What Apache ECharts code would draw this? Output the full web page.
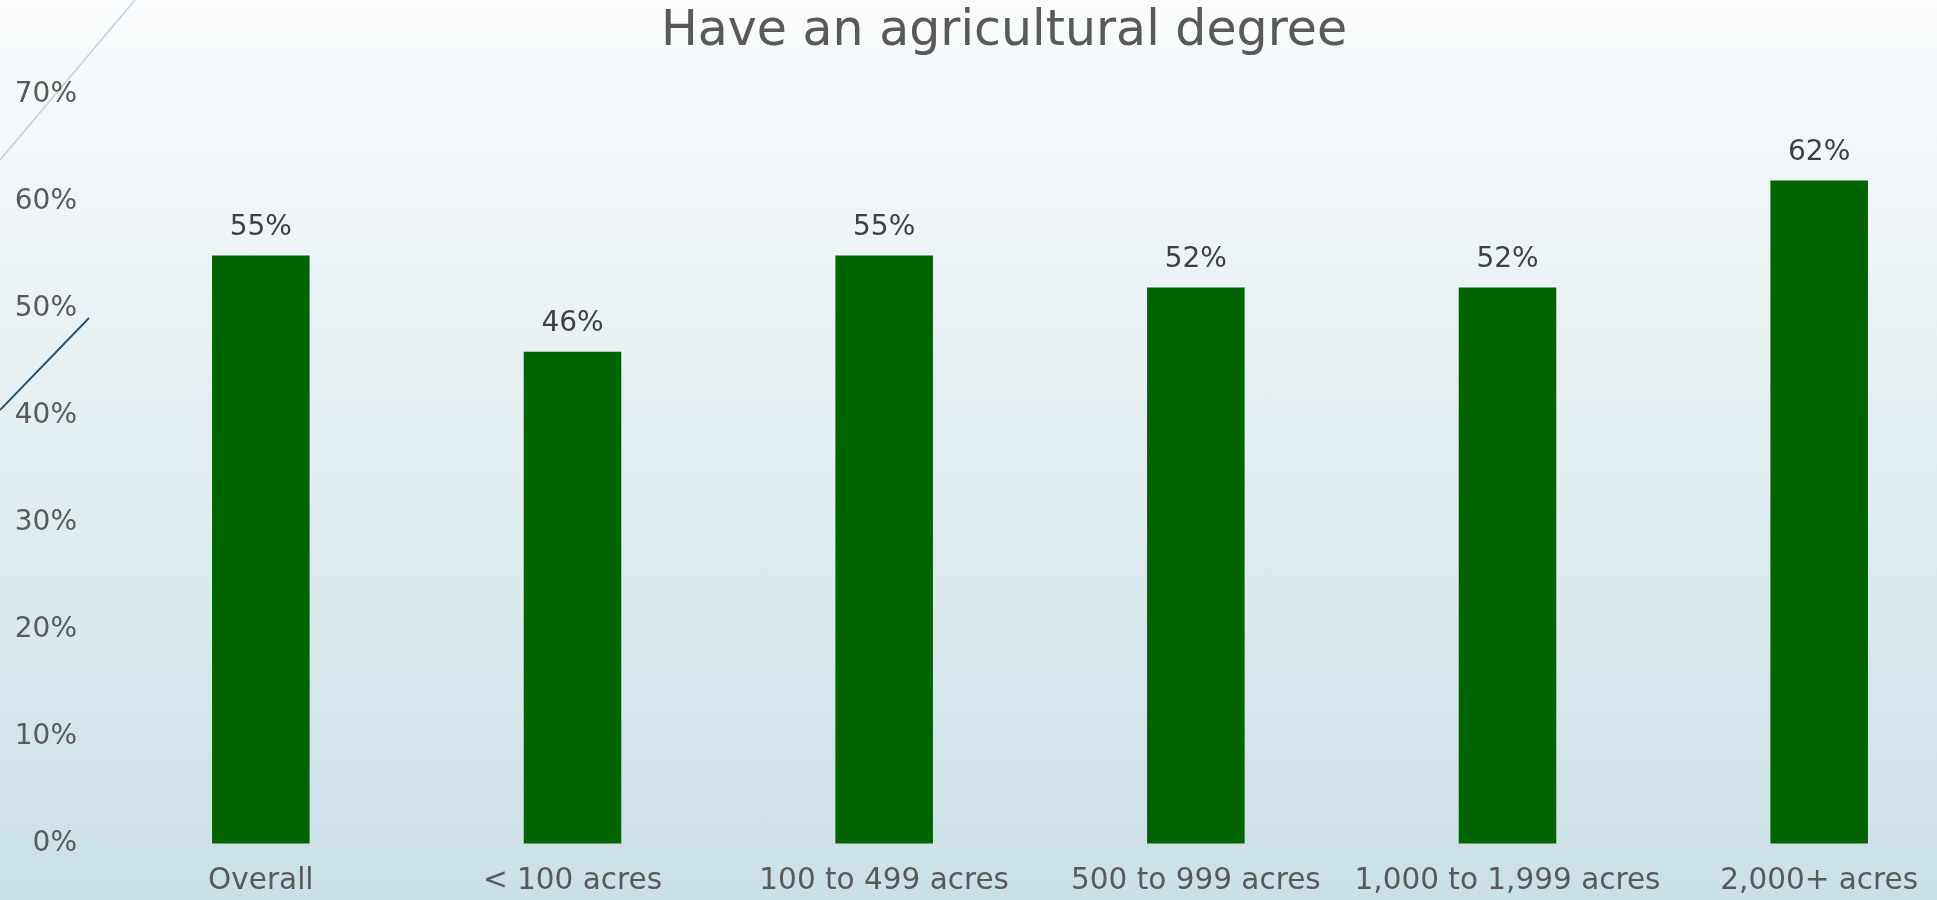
<!DOCTYPE html>
<html>
<head>
<meta charset="utf-8">
<script src="https://cdn.jsdelivr.net/npm/echarts@6/dist/echarts.min.js"></script>
<style>
html,body{margin:0;padding:0;width:1937px;height:900px;overflow:hidden;background:#e3eef2;}
#chart{width:1975px;height:900px;background:linear-gradient(to bottom,#f9fbfc 0%,#e3eef2 50%,#cae0e7 100%);}
</style>
</head>
<body>
<div id="chart"></div>
<script>
const titleText = 'Have an agricultural degree';
const categories = ['Overall', '< 100 acres', '100 to 499 acres', '500 to 999 acres', '1,000 to 1,999 acres', '2,000+ acres'];
const values = [55, 46, 55, 52, 52, 62];
const yMin = 0, yMax = 70, yStep = 10;

const font = '"DejaVu Sans", sans-serif';
const chart = echarts.init(document.getElementById('chart'), null, {renderer: 'canvas'});
chart.setOption({
  backgroundColor: 'transparent',
  animation: false,
  title: {
    text: titleText,
    left: 999,
    textAlign: 'center',
    top: 3,
    textStyle: {fontFamily: font, fontSize: 49, fontWeight: 'normal', color: '#595959'}
  },
  graphic: [
    {type: 'line', shape: {x1: 135, y1: 0, x2: 0, y2: 160}, style: {stroke: '#c5d1d8', lineWidth: 1.5}},
    {type: 'line', shape: {x1: 89, y1: 318, x2: 0, y2: 410}, style: {stroke: '#1f4e6e', lineWidth: 1.8}}
  ],
  grid: {left: 105, top: 95, bottom: 56.5, right: 0, containLabel: false},
  xAxis: {
    type: 'category',
    data: categories,
    axisLine: {show: true, lineStyle: {color: '#d9d9d9', width: 1.5}},
    axisTick: {show: false},
    axisLabel: {fontFamily: font, fontSize: 29.5, color: '#595959', margin: 23, interval: 0}
  },
  yAxis: {
    type: 'value',
    min: yMin, max: yMax, interval: yStep,
    axisLine: {show: false},
    axisTick: {show: false},
    splitLine: {show: false},
    axisLabel: {fontFamily: font, fontSize: 28, color: '#595959', margin: 28, formatter: '{value}%'}
  },
  series: [{
    type: 'bar',
    data: values,
    barWidth: '31.3%',
    itemStyle: {color: '#006400'},
    label: {show: true, position: 'top', distance: 14, formatter: '{c}%', fontFamily: font, fontSize: 28, color: '#404040'}
  }]
});
</script>
</body>
</html>
